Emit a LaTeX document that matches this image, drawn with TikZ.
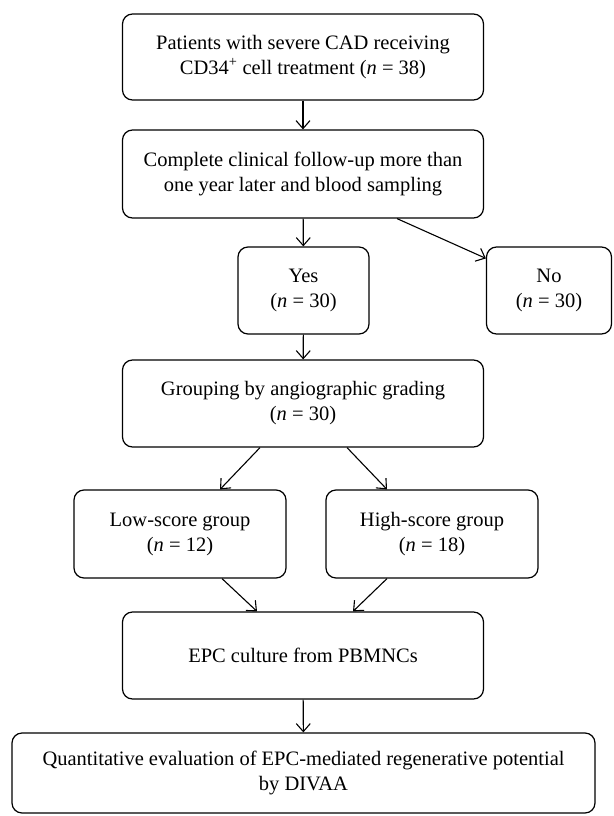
\documentclass[tikz,border=0pt]{standalone}
\usepackage{fontspec}
\setmainfont{Liberation Serif}
\usetikzlibrary{arrows.meta,calc}
\begin{document}
\begin{tikzpicture}[x=1pt,y=-1pt,
  box/.style={draw, line width=1.2pt, rounded corners=10pt, align=center, inner sep=0pt,
    font=\fontsize{20.5}{25}\selectfont},
  arr/.style={line width=1.1pt, -{Straight Barb[length=8pt,width=14pt,line width=1.1pt]}}]
\useasboundingbox (0,0) rectangle (613,816);
\node[box, minimum width=361pt, minimum height=86pt] (b1) at (303,57)
  {Patients with severe CAD receiving\\CD34\textsuperscript{+} cell treatment (\textit{n} = 38)};
\node[box, minimum width=361pt, minimum height=88pt] (b2) at (303,174)
  {Complete clinical follow-up more than\\one year later and blood sampling};
\node[box, minimum width=131pt, minimum height=87pt] (yes) at (303.5,290.5)
  {Yes\\(\textit{n} = 30)};
\node[box, minimum width=125pt, minimum height=87pt] (no) at (549,290.5)
  {No\\(\textit{n} = 30)};
\node[box, minimum width=361pt, minimum height=87pt] (grp) at (303,403.5)
  {Grouping by angiographic grading\\(\textit{n} = 30)};
\node[box, minimum width=212pt, minimum height=88pt] (low) at (180,534)
  {Low-score group\\(\textit{n} = 12)};
\node[box, minimum width=212pt, minimum height=88pt] (high) at (432,534)
  {High-score group\\(\textit{n} = 18)};
\node[box, minimum width=361pt, minimum height=87pt] (epc) at (303,655.5)
  {EPC culture from PBMNCs};
\node[box, minimum width=583pt, minimum height=80pt] (q) at (303.5,773)
  {Quantitative evaluation of EPC-mediated regenerative potential\\by DIVAA};
\draw[arr] (b1) -- (b2);
\draw[arr] (b2) -- (yes);
\draw[arr] ($(b2.south)+(94,0)$) -- ($(no.north west)+(0,12)$);
\draw[arr] (yes) -- (grp);
\draw[arr] ($(grp.south)+(-43,0)$) -- ($(low.north)+(40,0)$);
\draw[arr] ($(grp.south)+(44,0)$) -- ($(high.north)+(-45,0)$);
\draw[arr] ($(low.south)+(42,0)$) -- ($(epc.north)+(-46,0)$);
\draw[arr] ($(high.south)+(-45,0)$) -- ($(epc.north)+(50,0)$);
\draw[arr] (epc) -- (q);
\end{tikzpicture}
\end{document}
